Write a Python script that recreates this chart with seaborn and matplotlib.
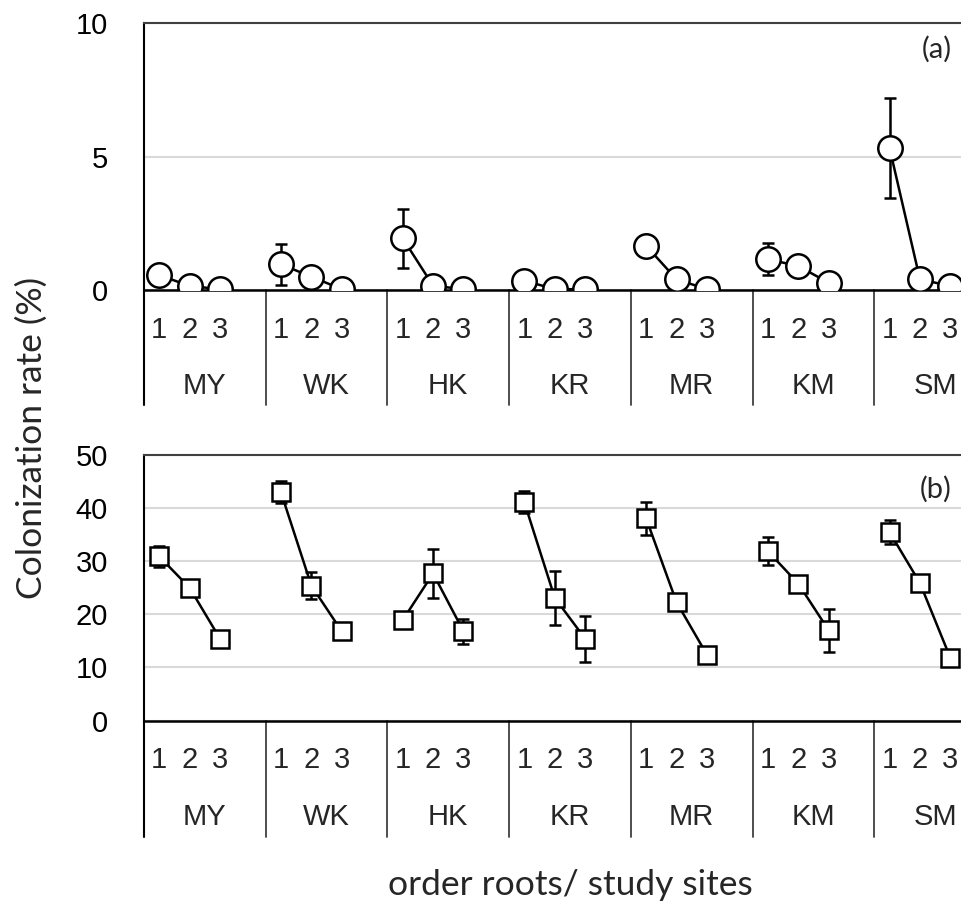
import numpy as np
import pandas as pd
import matplotlib
matplotlib.use("Agg")
import matplotlib.pyplot as plt
import seaborn as sns

# ---------------- data ----------------
sites = ["MY", "WK", "HK", "KR", "MR", "KM", "SM"]
orders = ["1", "2", "3"]

rate_a = [0.56, 0.15, 0.03,
          0.96, 0.50, 0.03,
          1.94, 0.16, 0.03,
          0.35, 0.03, 0.03,
          1.66, 0.40, 0.03,
          1.15, 0.90, 0.27,
          5.33, 0.40, 0.15]
err_a = [0.15, 0.10, 0.00,
         0.76, 0.10, 0.00,
         1.10, 0.10, 0.00,
         0.10, 0.00, 0.00,
         0.20, 0.10, 0.00,
         0.60, 0.20, 0.10,
         1.87, 0.20, 0.10]

rate_b = [30.9, 25.0, 15.4,
          43.0, 25.4, 16.8,
          18.9, 27.7, 16.8,
          41.1, 23.1, 15.4,
          38.1, 22.3, 12.4,
          31.9, 25.8, 17.0,
          35.5, 25.9, 11.8]
err_b = [1.9, 1.0, 0.8,
         2.1, 2.6, 0.8,
         0.8, 4.6, 2.35,
         2.05, 5.05, 4.35,
         3.1, 0.8, 0.8,
         2.7, 1.0, 4.1,
         2.25, 1.3, 0.6]

yticks_a = [0, 5, 10]
yticks_b = [0, 10, 20, 30, 40, 50]

# ---------------- frame ----------------
site_col = [s for s in sites for _ in orders]
order_idx = [i for _ in sites for i in range(len(orders))]
pos = [4 * sites.index(s) + i for s, i in zip(site_col, order_idx)]

df_a = pd.DataFrame({"site": site_col, "pos": pos, "rate": rate_a, "err": err_a})
df_b = pd.DataFrame({"site": site_col, "pos": pos, "rate": rate_b, "err": err_b})

sns.set_theme(style="white")
NUM_FONT = ["Liberation Sans", "DejaVu Sans"]
LAB_FONT = ["Lato", "DejaVu Sans"]
plt.rcParams["font.family"] = NUM_FONT

W, H = 961, 902
fig = plt.figure(figsize=(W / 100, H / 100), dpi=100)

def px_axes(left, right, top, bottom):
    return fig.add_axes([left / W, 1 - bottom / H, (right - left) / W, (bottom - top) / H])

NUM_SIZE = 21

def panel(ax, df, marker, ms, yticks, depth_px, axh_px, tag, tag_base):
    ax.set_xlim(-0.5, 27.5)
    ax.set_ylim(yticks[0], yticks[-1])
    ax.set_yticks(yticks)
    ax.set_xticks([])
    ax.yaxis.grid(True, color="#d9d9d9", lw=1.5)
    ax.set_axisbelow(True)
    ax.errorbar(df["pos"], df["rate"], yerr=df["err"], fmt="none",
                ecolor="black", elinewidth=1.8, capsize=4.3, capthick=1.8, zorder=1.5)
    sns.lineplot(data=df, x="pos", y="rate", units="site", estimator=None,
                 color="black", lw=1.8, marker=marker, markersize=ms,
                 markerfacecolor="white", markeredgecolor="black",
                 markeredgewidth=1.8, legend=False, ax=ax, zorder=3)
    ax.set_xlabel("")
    ax.set_ylabel("")
    ax.spines["right"].set_visible(False)
    ax.spines["top"].set_color("#404040")
    ax.spines["top"].set_linewidth(1.5)
    ax.spines["left"].set_color("black")
    ax.spines["left"].set_linewidth(1.5)
    ax.spines["bottom"].set_color("black")
    ax.spines["bottom"].set_linewidth(1.8)
    ax.tick_params(axis="y", length=0, pad=26, labelsize=NUM_SIZE, colors="black")
    depth = depth_px / axh_px
    ax.axvline(-0.5, ymin=-depth, ymax=0, clip_on=False, color="black", lw=1.5)
    for s in range(1, len(sites)):
        ax.axvline(4 * s - 0.5, ymin=-depth, ymax=0, clip_on=False, color="#404040", lw=1.3)
    trans = ax.get_xaxis_transform()
    for s, name in enumerate(sites):
        for i, o in enumerate(orders):
            ax.text(4 * s + i, -47.7 / axh_px, o, transform=trans, ha="center",
                    va="baseline", fontsize=NUM_SIZE, family=NUM_FONT, clip_on=False)
        ax.text(4 * s + 1.5, -104 / axh_px, name, transform=trans, ha="center",
                va="baseline", fontsize=NUM_SIZE, family=NUM_FONT, clip_on=False)
    fig.text(952 / W, 1 - tag_base / H, tag, ha="right", va="baseline",
             fontsize=21, family=LAB_FONT)

ax_a = px_axes(144, 996, 23, 290)
panel(ax_a, df_a, "o", 17.6, yticks_a, 115, 267, "(a)", 57.5)

ax_b = px_axes(144, 996, 455, 720.6)
panel(ax_b, df_b, "s", 12.5, yticks_b, 116, 265.6, "(b)", 498)

fig.text(32 / W, 1 - 437.5 / H, "Colonization rate (%)", rotation=90,
         ha="center", va="center", fontsize=25.5, family=LAB_FONT)
fig.text(570 / W, 1 - 895 / H, "order roots/ study sites", ha="center",
         va="baseline", fontsize=25.5, family=LAB_FONT)

fig.savefig("out.png", dpi=100)
